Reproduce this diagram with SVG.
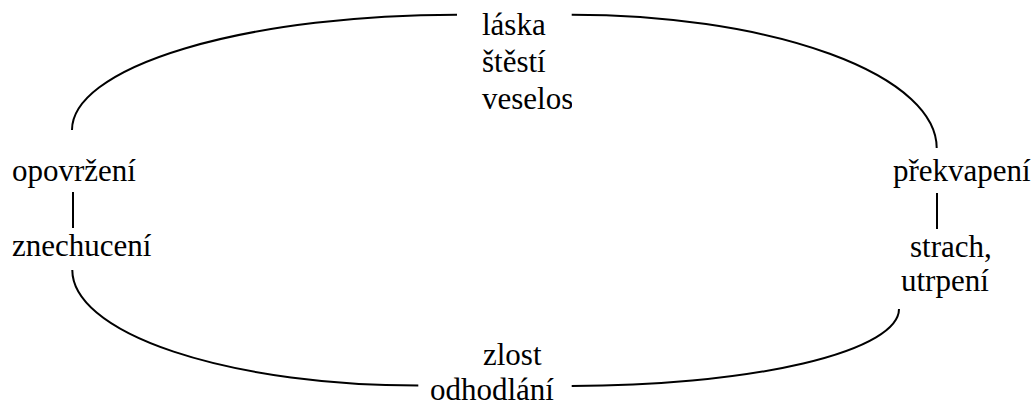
<svg xmlns="http://www.w3.org/2000/svg" width="1035" height="406" viewBox="0 0 1035 406">
<style>
  .c { fill: none; stroke: #000; stroke-width: 2; }
</style>
<defs>
  <clipPath id="clipTop"><rect x="470" y="0" width="102" height="130"/></clipPath>
</defs>
<rect width="1035" height="406" fill="#fff"/>
<g id="connectors">
  <path class="c" d="M72,130 A385,115.3 0 0 1 457,14.7"/>
  <path class="c" d="M571.7,14.7 A365,133.3 0 0 1 936.7,148"/>
  <path class="c" d="M72.3,270 A346,115.5 0 0 0 418.3,385.5"/>
  <path class="c" d="M571.7,386 A327.3,77 0 0 0 899,309"/>
  <line class="c" x1="73" y1="192" x2="73" y2="228"/>
  <line class="c" x1="937" y1="193" x2="937" y2="229"/>
</g>
<g font-family="Liberation Serif, serif" font-size="31" fill="#000">
<g id="top">
  <text x="482" y="35">láska</text>
  <text x="482" y="72">štěstí</text>
  <text x="482" y="109" clip-path="url(#clipTop)">veselost</text>
</g>
<g id="left">
  <text x="12" y="181">opovržení</text>
  <text x="12" y="256">znechucení</text>
</g>
<g id="right">
  <text x="893" y="181">překvapení</text>
  <text x="910" y="257">strach,</text>
  <text x="901" y="291">utrpení</text>
</g>
<g id="bottom">
  <text x="483" y="365">zlost</text>
  <text x="430" y="400">odhodlání</text>
</g>
</g>
</svg>
